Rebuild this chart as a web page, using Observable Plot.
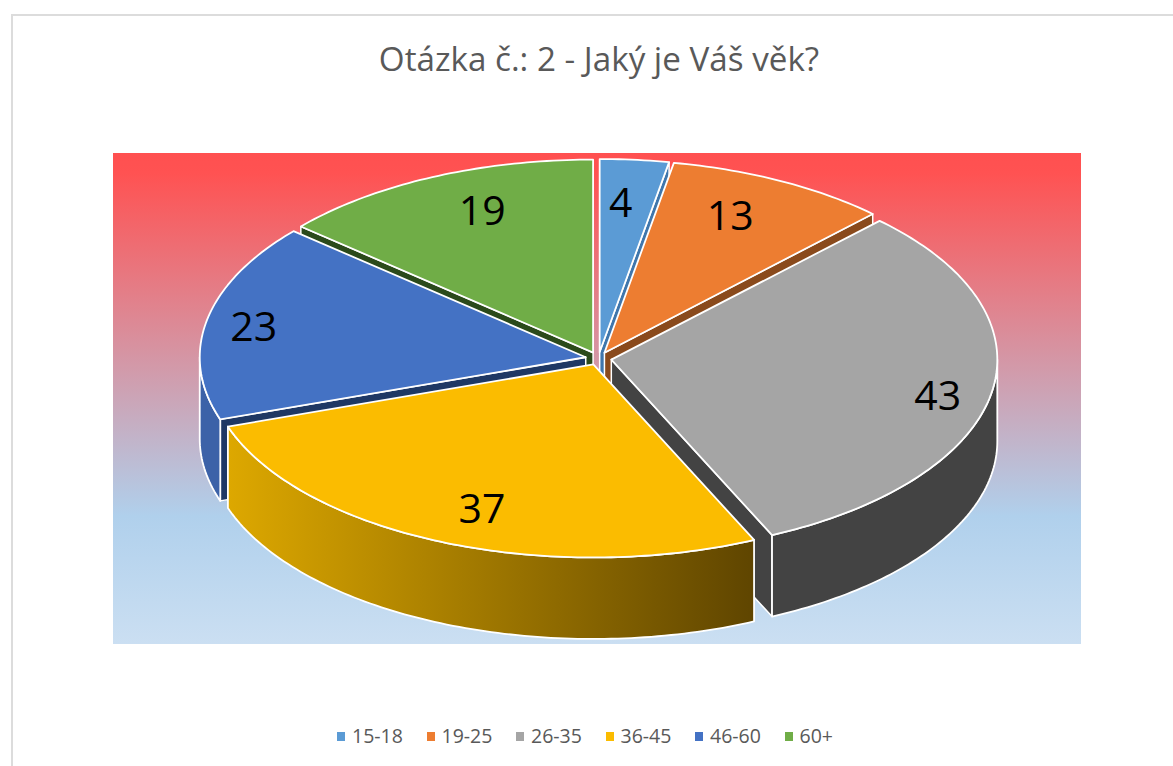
<!DOCTYPE html>
<html lang="cs">
<head>
<meta charset="utf-8">
<script src="https://cdn.jsdelivr.net/npm/d3@7"></script>
<script src="https://cdn.jsdelivr.net/npm/@observablehq/plot@0.6"></script>
<style>
html,body{margin:0;padding:0;background:#fff;overflow:hidden}
#page{position:relative;width:1173px;height:766px;font-family:"Open Sans",sans-serif}
#frame{position:absolute;left:11px;top:14px;right:-4px;bottom:-4px;border:2px solid #dcdcdc}
#title{position:absolute;left:0;width:1198px;top:38px;text-align:center;font-size:33.2px;line-height:42px;color:#595959}
#chart{position:absolute;left:0;top:110px}
#legend{position:absolute;left:337px;top:722px;display:flex;font-size:19.5px;line-height:28px;color:#595959}
#legend div{display:flex;align-items:center;width:89.5px}
#legend i{display:block;width:8px;height:9px;margin-right:7px}
</style>
</head>
<body>
<div id="page">
  <div id="frame"></div>
  <div id="title"></div>
  <div id="chart"></div>
  <div id="legend"></div>
</div>
<script>
const chartTitle = "Otázka č.: 2 - Jaký je Váš věk?";
const categories = ["15-18","19-25","26-35","36-45","46-60","60+"];
const counts = [4,13,43,37,23,19];
const topColors = ["#5B9BD5","#ED7D31","#A5A5A5","#FBBC00","#4472C4","#70AD47"];
const cutColors = ["#3F76AC","#8A4A1C","#434343","#6B5000","#1F3864","#2B4A1B"];
const wallFills = ["#3F76AC","#8A4A1C","#434343","url(#wallGold)","#3C62A8","#426A2B"];
const drawOrder = [0,5,1,4,2,3];
const labelNudge = [[-.018,.014],[-.04,.005],[.057,.028],[.028,.01],[-.075,0],[.046,0]];

const H = 560, PW = 1173, CX = 598, CY = 358, RX = 386, RY = 193, TOP = 110;
const explode = 13/386, depth = 81.5/193;

document.getElementById("title").textContent = chartTitle;
document.getElementById("legend").innerHTML = categories
  .map((c,i)=>`<div><i style="background:${topColors[i]}"></i><span>${c}</span></div>`).join("");

const total = d3.sum(counts);
let acc = 0;
const slices = counts.map((v,i)=>{
  const a0 = acc/total*360; acc += v; const a1 = acc/total*360;
  const mid = (a0+a1)/2*Math.PI/180;
  return {i,a0,a1,ox:Math.sin(mid)*explode,oy:-Math.cos(mid)*explode,mid};
});
const rad = a=>a*Math.PI/180;
const P = (s,a,dz=0)=>({x:s.ox+Math.sin(rad(a)),y:s.oy-Math.cos(rad(a))+dz});
const Tip = (s,dz=0)=>({x:s.ox,y:s.oy+dz});
const arc = (s,a0,a1,dz=0)=>{
  const n = Math.max(2,Math.ceil(Math.abs(a1-a0)));
  return d3.range(n+1).map(k=>P(s,a0+(a1-a0)*k/n,dz));
};
const close = pts=>[...pts,pts[0]];

const poly = (pts,fill,sw=1.8)=>Plot.line(close(pts),{x:"x",y:"y",fill,stroke:"#fff",strokeWidth:sw,curve:"linear"});

const layers = [];
for (const i of drawOrder){
  const s = slices[i];
  // visible cut face
  const cutA = s.a1<180 ? s.a1 : (s.a0>=180 ? s.a0 : null);
  if (cutA!==null) layers.push(poly([Tip(s),P(s,cutA),P(s,cutA,depth),Tip(s,depth)],cutColors[i],1.5));
  // visible outer wall
  const w0 = Math.max(s.a0,90), w1 = Math.min(s.a1,270);
  if (w1>w0) layers.push(poly([...arc(s,w0,w1),...arc(s,w1,w0,depth)],wallFills[i]));
  // top face
  layers.push(poly([Tip(s),...arc(s,s.a0,s.a1)],topColors[i]));
}

const labels = slices.map(s=>({
  text:String(counts[s.i]),
  x:s.ox+.8*Math.sin(s.mid)+labelNudge[s.i][0],
  y:s.oy-.8*Math.cos(s.mid)+labelNudge[s.i][1]*2
}));

const backdrop = [{x1:(113-CX)/RX,x2:(1081-CX)/RX,y1:(153-CY)/RY,y2:(644-CY)/RY}];

const defs = ()=>{
  const d = d3.create("svg:defs");
  const g = d.append("linearGradient").attr("id","backdropFade").attr("x1",0).attr("x2",0).attr("y1",0).attr("y2",1);
  [[0,"#FF5050"],[.04,"#FF5252"],[.74,"#B0D0EC"],[1,"#CBDFF2"]].forEach(([o,c])=>g.append("stop").attr("offset",o).attr("stop-color",c));
  const w = d.append("linearGradient").attr("id","wallGold").attr("x1",0).attr("x2",1).attr("y1",0).attr("y2",0);
  [[0,"#DDA800"],[1,"#5F4500"]].forEach(([o,c])=>w.append("stop").attr("offset",o).attr("stop-color",c));
  return d.node();
};

const plot = Plot.plot({
  width:PW,height:H,margin:0,
  style:{background:"transparent",overflow:"visible"},
  x:{axis:null,domain:[-CX/RX,(PW-CX)/RX],range:[0,PW]},
  y:{axis:null,domain:[(TOP-CY)/RY,(TOP+H-CY)/RY],range:[0,H]},
  marks:[
    defs,
    Plot.rect(backdrop,{x1:"x1",x2:"x2",y1:"y1",y2:"y2",fill:"url(#backdropFade)"}),
    ...layers,
    Plot.text(labels,{x:"x",y:"y",text:"text",fill:"#000",fontSize:41,fontFamily:"'Open Sans',sans-serif",textAnchor:"middle",lineAnchor:"middle"})
  ]
});
document.getElementById("chart").appendChild(plot);
</script>
</body>
</html>
